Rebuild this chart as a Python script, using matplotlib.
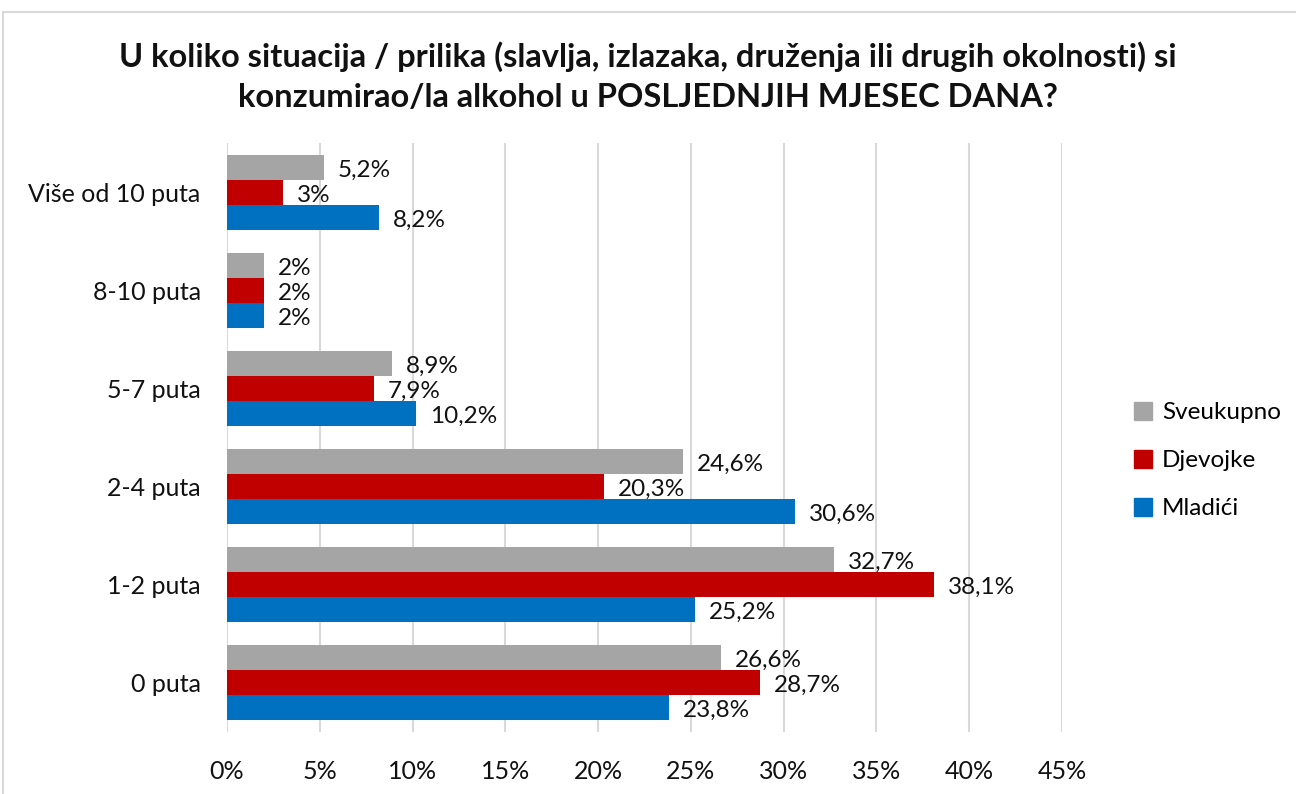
import matplotlib.pyplot as plt
from matplotlib.patches import Rectangle, Patch
import numpy as np

plt.rcParams['font.family'] = ['Lato', 'DejaVu Sans']

categories = ["0 puta", "1-2 puta", "2-4 puta", "5-7 puta", "8-10 puta", "Više od 10 puta"]
sveukupno = [26.6, 32.7, 24.6, 8.9, 2, 5.2]
djevojke = [28.7, 38.1, 20.3, 7.9, 2, 3]
mladici = [23.8, 25.2, 30.6, 10.2, 2, 8.2]
series_names = ["Sveukupno", "Djevojke", "Mladići"]
colors = ["#a5a5a5", "#c00000", "#0070c0"]

title = ("U koliko situacija / prilika (slavlja, izlazaka, druženja ili drugih okolnosti) si\n"
         "konzumirao/la alkohol u POSLJEDNJIH MJESEC DANA?")

fig = plt.figure(figsize=(12.96, 7.94), dpi=100)
ax = fig.add_axes([0.1752, 0.0781, 0.6442, 0.7412])

y = np.arange(len(categories))
h = 0.255
offsets = [h, 0, -h]
for vals, off, col, name in zip([sveukupno, djevojke, mladici], offsets, colors, series_names):
    bars = ax.barh(y + off, vals, height=h, color=col, label=name, zorder=3)
    for b, v in zip(bars, vals):
        txt = ("%g" % v).replace(".", ",") + "%"
        ax.annotate(txt, (b.get_width(), b.get_y() + b.get_height() / 2),
                    xytext=(10, -2), textcoords="offset points",
                    ha="left", va="center", fontsize=17.5, color="#111111")

ax.set_xlim(0, 45)
ax.set_ylim(-0.5, len(categories) - 0.5)
ax.set_xticks(np.arange(0, 46, 5))
ax.set_xticklabels([f"{t}%" for t in range(0, 46, 5)])
ax.set_yticks(y)
ax.set_yticklabels(categories)
ax.tick_params(axis="both", length=0, labelsize=18, colors="#111111")
ax.tick_params(axis="x", pad=20)
ax.tick_params(axis="y", pad=19)
ax.grid(axis="x", color="#d9d9d9", linewidth=1.5, zorder=0)
for s in ax.spines.values():
    s.set_visible(False)

fig.text(0.5, 0.904, title, ha="center", va="center", fontsize=23.5,
         fontweight="bold", linespacing=1.45, color="#111111")

handles = [Patch(color=c) for c in colors]
fig.legend(handles, series_names, loc="center left", bbox_to_anchor=(0.858, 0.42),
           frameon=False, fontsize=17.5, handlelength=0.75, handleheight=0.75,
           handletextpad=0.4, labelspacing=1.1)

fig.patches.append(Rectangle((3 / 1296, -0.01), 1.5, 1 - 12 / 794 + 0.01,
                             transform=fig.transFigure, fill=False,
                             edgecolor="#d9d9d9", linewidth=1.5))

fig.savefig("out.png", dpi=100)
